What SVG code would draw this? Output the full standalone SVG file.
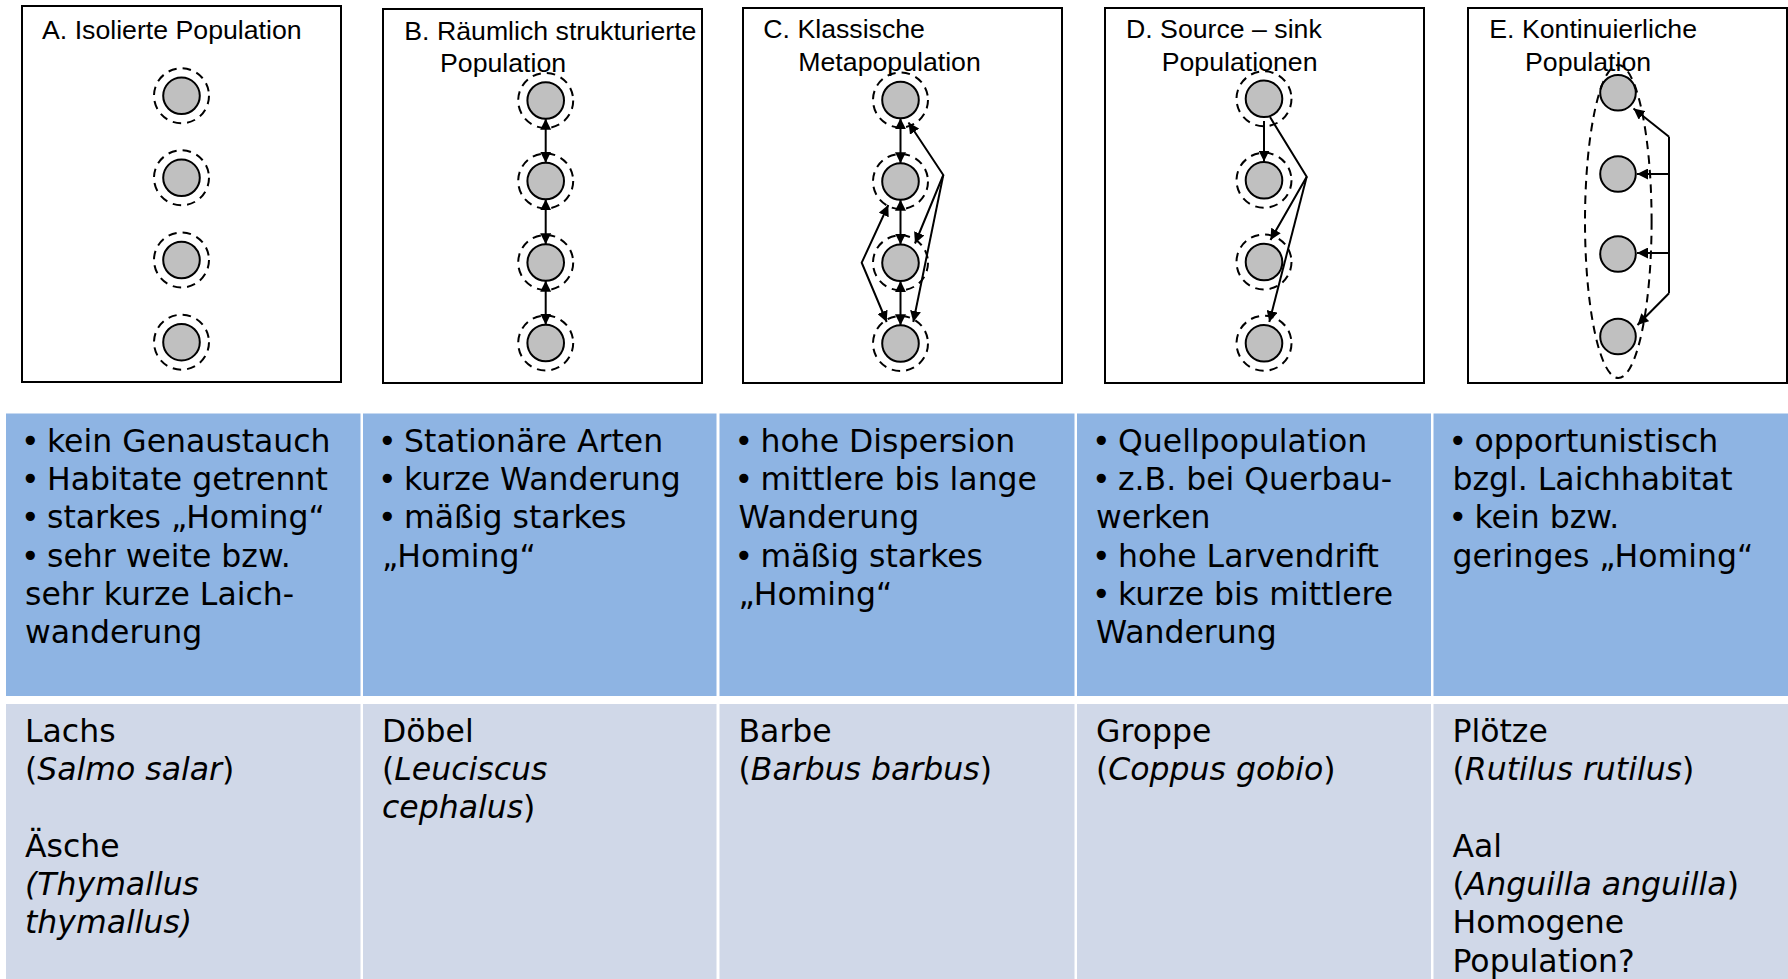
<svg xmlns="http://www.w3.org/2000/svg" width="1788" height="979" viewBox="0 0 1788 979">
<style>
.box{fill:#fff;stroke:#000;stroke-width:2}
.pop{fill:#C0C0C0;stroke:#000;stroke-width:2}
.halo{fill:none;stroke:#000;stroke-width:2;stroke-dasharray:8.5 6}
.ttl{font-family:"Liberation Sans",Arial,sans-serif;font-size:26.7px;fill:#000}
.con{fill:none;stroke:#000;stroke-width:2}
.both{marker-start:url(#ah);marker-end:url(#ah)}
.end{marker-end:url(#ah)}
.blue{fill:#8EB4E3}
.grey{fill:#D0D8E8}
.tx{font-family:"DejaVu Sans",Verdana,sans-serif;font-size:31.5px;fill:#000}
.it{font-style:italic}
</style>
<defs>
<marker id="ah" viewBox="0 0 10 10" refX="10" refY="5" markerUnits="userSpaceOnUse" markerWidth="11" markerHeight="11" orient="auto-start-reverse">
<path d="M0,0 L10,5 L0,10 z" fill="#000"/>
</marker>
</defs>
<rect width="1788" height="979" fill="#fff"/>

<!-- Panel A -->
<g id="panelA">
<rect class="box" x="22" y="6" width="319" height="376"/>
<text class="ttl" x="42" y="39.3">A. Isolierte Population</text>
<g id="A1"><circle class="pop" cx="181.5" cy="95.8" r="18.3"/><circle class="halo" cx="181.5" cy="95.8" r="27.5"/></g>
<g id="A2"><circle class="pop" cx="181.5" cy="177.8" r="18.3"/><circle class="halo" cx="181.5" cy="177.8" r="27.5"/></g>
<g id="A3"><circle class="pop" cx="181.5" cy="260" r="18.3"/><circle class="halo" cx="181.5" cy="260" r="27.5"/></g>
<g id="A4"><circle class="pop" cx="181.5" cy="342.2" r="18.3"/><circle class="halo" cx="181.5" cy="342.2" r="27.5"/></g>
</g>

<!-- Panel B -->
<g id="panelB">
<rect class="box" x="383" y="9" width="319" height="374"/>
<text class="ttl" x="404.3" y="40">B. Räumlich strukturierte</text>
<text class="ttl" x="440" y="71.7">Population</text>
<g id="B1"><circle class="pop" cx="545.7" cy="100.5" r="18.3"/><circle class="halo" cx="545.7" cy="100.5" r="27.5"/></g>
<g id="B2"><circle class="pop" cx="545.7" cy="181" r="18.3"/><circle class="halo" cx="545.7" cy="181" r="27.5"/></g>
<g id="B3"><circle class="pop" cx="545.7" cy="262.5" r="18.3"/><circle class="halo" cx="545.7" cy="262.5" r="27.5"/></g>
<g id="B4"><circle class="pop" cx="545.7" cy="343" r="18.3"/><circle class="halo" cx="545.7" cy="343" r="27.5"/></g>
</g>

<!-- Panel C -->
<g id="panelC">
<rect class="box" x="743" y="8" width="319" height="375"/>
<text class="ttl" x="763.3" y="38.3">C. Klassische</text>
<text class="ttl" x="798.3" y="71">Metapopulation</text>
<g id="C1"><circle class="pop" cx="900.5" cy="100" r="18.3"/><circle class="halo" cx="900.5" cy="100" r="27.5"/></g>
<g id="C2"><circle class="pop" cx="900.5" cy="181.5" r="18.3"/><circle class="halo" cx="900.5" cy="181.5" r="27.5"/></g>
<g id="C3"><circle class="pop" cx="900.5" cy="262.8" r="18.3"/><circle class="halo" cx="900.5" cy="262.8" r="27.5"/></g>
<g id="C4"><circle class="pop" cx="900.5" cy="343.5" r="18.3"/><circle class="halo" cx="900.5" cy="343.5" r="27.5"/></g>
</g>

<!-- Panel D -->
<g id="panelD">
<rect class="box" x="1105" y="8" width="319" height="375"/>
<text class="ttl" x="1126" y="38.3">D. Source – sink</text>
<text class="ttl" x="1161.7" y="71">Populationen</text>
<g id="D1"><circle class="pop" cx="1264" cy="98.8" r="18.3"/><circle class="halo" cx="1264" cy="98.8" r="27.5"/></g>
<g id="D2"><circle class="pop" cx="1264" cy="180.3" r="18.3"/><circle class="halo" cx="1264" cy="180.3" r="27.5"/></g>
<g id="D3"><circle class="pop" cx="1264" cy="262" r="18.3"/><circle class="halo" cx="1264" cy="262" r="27.5"/></g>
<g id="D4"><circle class="pop" cx="1264" cy="343.3" r="18.3"/><circle class="halo" cx="1264" cy="343.3" r="27.5"/></g>
</g>

<!-- Panel E -->
<g id="panelE">
<rect class="box" x="1468" y="8" width="319" height="375"/>
<text class="ttl" x="1489.3" y="38.3">E. Kontinuierliche</text>
<text class="ttl" x="1525" y="71">Population</text>
<g id="E1"><circle class="pop" cx="1618" cy="92.8" r="17.8"/></g>
<g id="E2"><circle class="pop" cx="1618" cy="174" r="17.8"/></g>
<g id="E3"><circle class="pop" cx="1618" cy="254" r="17.8"/></g>
<g id="E4"><circle class="pop" cx="1618" cy="336.5" r="17.8"/></g>
<ellipse id="E-range" class="halo" cx="1618.3" cy="221.5" rx="33.3" ry="156.5"/>
</g>

<!-- Connectors -->
<g id="connectors">
<line class="con both" x1="545.7" y1="118.8" x2="545.7" y2="162.7"/>
<line class="con both" x1="545.7" y1="199.3" x2="545.7" y2="244.2"/>
<line class="con both" x1="545.7" y1="280.8" x2="545.7" y2="324.7"/>

<line class="con both" x1="900.5" y1="118.3" x2="900.5" y2="163.2"/>
<line class="con both" x1="900.5" y1="199.8" x2="900.5" y2="244.5"/>
<line class="con both" x1="900.5" y1="281.1" x2="900.5" y2="325.2"/>
<polyline class="con both" points="908.5,122.5 943.3,175 915,243.5"/>
<polyline class="con end" points="943.3,175 913.3,322"/>
<polyline class="con both" points="888.3,205 861.7,262.7 886.7,322"/>

<line class="con end" x1="1264" y1="121" x2="1264" y2="161.5"/>
<polyline class="con end" points="1270,117 1306.7,176.7 1270.5,240"/>
<polyline class="con end" points="1306.7,176.7 1269.3,322"/>

<line class="con" x1="1669" y1="136.7" x2="1669" y2="293.3"/>
<line class="con end" x1="1669" y1="136.7" x2="1633.5" y2="108.5"/>
<line class="con end" x1="1669" y1="174" x2="1637" y2="174"/>
<line class="con end" x1="1669" y1="253" x2="1637" y2="253"/>
<line class="con end" x1="1669" y1="293.3" x2="1637.5" y2="325"/>
</g>

<!-- Table -->
<g id="row-traits">
<rect class="blue" x="6" y="413.5" width="354.5" height="282.5"/>
<rect class="blue" x="363" y="413.5" width="353.5" height="282.5"/>
<rect class="blue" x="719.5" y="413.5" width="355" height="282.5"/>
<rect class="blue" x="1077" y="413.5" width="354" height="282.5"/>
<rect class="blue" x="1433.5" y="413.5" width="354.5" height="282.5"/>
</g>
<g id="row-species">
<rect class="grey" x="6" y="704" width="354.5" height="275"/>
<rect class="grey" x="363" y="704" width="353.5" height="275"/>
<rect class="grey" x="719.5" y="704" width="355" height="275"/>
<rect class="grey" x="1077" y="704" width="354" height="275"/>
<rect class="grey" x="1433.5" y="704" width="354.5" height="275"/>
</g>

<g id="cellA-traits" class="tx">
<text x="21" y="451.7">•<tspan x="47">kein Genaustauch</tspan></text>
<text x="21" y="490">•<tspan x="47">Habitate getrennt</tspan></text>
<text x="21" y="528.3">•<tspan x="47">starkes „Homing“</tspan></text>
<text x="21" y="566.6">•<tspan x="47">sehr weite bzw.</tspan></text>
<text x="25" y="604.9">sehr kurze Laich-</text>
<text x="25" y="643.2">wanderung</text>
</g>
<g id="cellB-traits" class="tx">
<text x="378" y="451.7">•<tspan x="404">Stationäre Arten</tspan></text>
<text x="378" y="490">•<tspan x="404">kurze Wanderung</tspan></text>
<text x="378" y="528.3">•<tspan x="404">mäßig starkes</tspan></text>
<text x="382" y="566.6">„Homing“</text>
</g>
<g id="cellC-traits" class="tx">
<text x="734.5" y="451.7">•<tspan x="760.5">hohe Dispersion</tspan></text>
<text x="734.5" y="490">•<tspan x="760.5">mittlere bis lange</tspan></text>
<text x="738.5" y="528.3">Wanderung</text>
<text x="734.5" y="566.6">•<tspan x="760.5">mäßig starkes</tspan></text>
<text x="738.5" y="604.9">„Homing“</text>
</g>
<g id="cellD-traits" class="tx">
<text x="1092" y="451.7">•<tspan x="1118">Quellpopulation</tspan></text>
<text x="1092" y="490">•<tspan x="1118">z.B. bei Querbau-</tspan></text>
<text x="1096" y="528.3">werken</text>
<text x="1092" y="566.6">•<tspan x="1118">hohe Larvendrift</tspan></text>
<text x="1092" y="604.9">•<tspan x="1118">kurze bis mittlere</tspan></text>
<text x="1096" y="643.2">Wanderung</text>
</g>
<g id="cellE-traits" class="tx">
<text x="1448.5" y="451.7">•<tspan x="1474.5">opportunistisch</tspan></text>
<text x="1452.5" y="490">bzgl. Laichhabitat</text>
<text x="1448.5" y="528.3">•<tspan x="1474.5">kein bzw.</tspan></text>
<text x="1452.5" y="566.6">geringes „Homing“</text>
</g>

<g id="cellA-species" class="tx">
<text x="25" y="741.7">Lachs</text>
<text x="25" y="780">(<tspan class="it">Salmo salar</tspan>)</text>
<text x="25" y="856.6">Äsche</text>
<text x="25" y="894.9" class="it">(Thymallus</text>
<text x="25" y="933.2" class="it">thymallus)</text>
</g>
<g id="cellB-species" class="tx">
<text x="382" y="741.7">Döbel</text>
<text x="382" y="780">(<tspan class="it">Leuciscus</tspan></text>
<text x="382" y="818.3"><tspan class="it">cephalus</tspan>)</text>
</g>
<g id="cellC-species" class="tx">
<text x="738.5" y="741.7">Barbe</text>
<text x="738.5" y="780">(<tspan class="it">Barbus barbus</tspan>)</text>
</g>
<g id="cellD-species" class="tx">
<text x="1096" y="741.7">Groppe</text>
<text x="1096" y="780">(<tspan class="it">Coppus gobio</tspan>)</text>
</g>
<g id="cellE-species" class="tx">
<text x="1452.5" y="741.7">Plötze</text>
<text x="1452.5" y="780">(<tspan class="it">Rutilus rutilus</tspan>)</text>
<text x="1452.5" y="856.6">Aal</text>
<text x="1452.5" y="894.9">(<tspan class="it">Anguilla anguilla</tspan>)</text>
<text x="1452.5" y="933.2">Homogene</text>
<text x="1452.5" y="971.5">Population?</text>
</g>
</svg>
